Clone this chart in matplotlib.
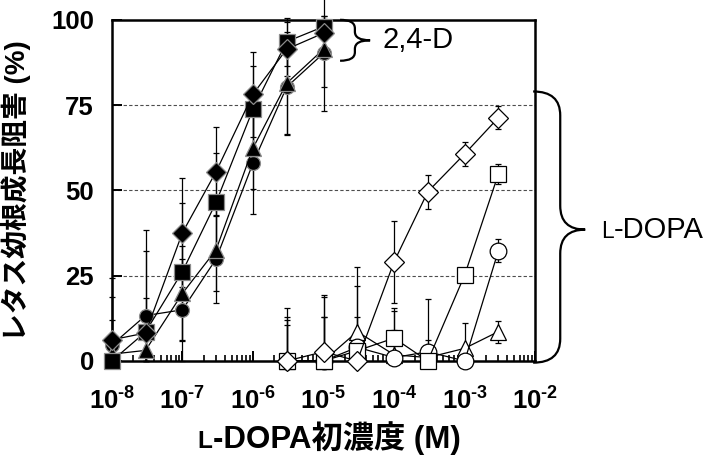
import matplotlib
matplotlib.use("Agg")
from matplotlib import pyplot as plt
from matplotlib.path import Path
from matplotlib.patches import PathPatch
from matplotlib.transforms import blended_transform_factory
from matplotlib.offsetbox import TextArea, HPacker, AnchoredOffsetbox
from matplotlib.ticker import FixedLocator, FixedFormatter, LogLocator, NullFormatter

fam = ['Liberation Sans', 'Noto Sans CJK JP']
plt.rcParams['font.family'] = fam
plt.rcParams['mathtext.fontset'] = 'custom'
plt.rcParams['mathtext.bf'] = 'Liberation Sans:bold'
plt.rcParams['mathtext.rm'] = 'Liberation Sans'

# 2,4-D (filled markers)
conc_24d = [1e-8, 3e-8, 1e-7, 3e-7, 1e-6, 3e-6, 1e-5]
d_diamond = [6.2, 8.2, 37.6, 55.5, 78.2, 91.4, 96.1]
d_square = [0.0, 8.5, 26.2, 46.5, 73.8, 93.6, 98.0]
d_triangle = [2.0, 3.1, 19.8, 32.6, 62.4, 81.4, 91.4]
d_circle = [4.7, 13.3, 15.0, 29.9, 58.0, 80.3, 90.2]
e_diamond = [18, 24, 16, 13, 12.5, 8, 5]
e_square = [6, 10, 20, 14.5, 12.8, 7, 3]
e_triangle = [10, 6, 14, 12, 12, 15, 18]
e_circle = [14, 25, 15, 13, 15, 14, 10]

# L-DOPA (open markers)
conc_dopa = [3e-6, 1e-5, 3e-5, 1e-4, 3e-4, 1e-3, 3e-3]
l_diamond = [0.0, 2.7, 0.0, 29.1, 49.6, 60.7, 71.3]
l_square = [0.0, 0.0, 3.0, 6.7, 0.0, 25.2, 54.8]
l_circle = [0.0, 0.0, 4.0, 1.0, 2.7, 0.0, 32.3]
l_triangle = [0.0, 0.0, 8.6, 1.8, 1.0, 3.7, 8.6]
le_diamond = [15.5, 16.7, 5, 12, 5, 3.5, 3.4]
le_square = [13, 18.8, 10, 8.8, 2, 2, 3]
le_circle = [12, 13, 18, 8, 15.4, 2, 3.4]
le_triangle = [10.6, 13, 19, 12.7, 5, 7.3, 3.2]

xticks = [1e-8, 1e-7, 1e-6, 1e-5, 1e-4, 1e-3, 1e-2]
xticklabels = ['$\\mathbf{10^{\u2010%d}}$' % n for n in range(8, 1, -1)]
yticks = [0, 25, 50, 75, 100]

fig = plt.figure(figsize=(7.08, 4.61), dpi=100)
ax = fig.add_axes([0.158, 0.217, 0.598, 0.74])

ax.set_xscale('log')
ax.set_xlim(1e-8, 1e-2)
ax.set_ylim(0, 100)

for yv in yticks[1:4]:
    ax.axhline(yv, color='0.3', lw=0.8, ls=(0, (3, 2)), zorder=1)


def series(x, y, err, marker, ms, filled):
    lo = [min(e, v) for e, v in zip(err, y)]
    if filled:
        mfc, mec = 'black', '0.55'
    else:
        mfc, mec = 'white', 'black'
    ax.errorbar(x, y, yerr=[lo, err], fmt='-', color='black', lw=0.9,
                marker=marker, ms=ms, mfc=mfc, mec=mec, mew=0.9,
                elinewidth=0.9, capsize=2.5, capthick=0.9,
                zorder=3, clip_on=False)


series(conc_dopa, l_triangle, le_triangle, '^', 12, False)
series(conc_dopa, l_circle, le_circle, 'o', 12, False)
series(conc_dopa, l_square, le_square, 's', 12, False)
series(conc_dopa, l_diamond, le_diamond, 'D', 10, False)

series(conc_24d, d_circle, e_circle, 'o', 10, True)
series(conc_24d, d_triangle, e_triangle, '^', 11, True)
series(conc_24d, d_square, e_square, 's', 11, True)
series(conc_24d, d_diamond, e_diamond, 'D', 10, True)

for s in ax.spines.values():
    s.set_linewidth(1.8)
    s.set_zorder(2)

ax.xaxis.set_major_locator(FixedLocator(xticks))
ax.xaxis.set_major_formatter(FixedFormatter(xticklabels))
ax.xaxis.set_minor_locator(LogLocator(base=10, subs=range(2, 10), numticks=20))
ax.xaxis.set_minor_formatter(NullFormatter())
ax.set_yticks(yticks)
ax.tick_params(axis='both', which='major', direction='in', length=7, width=1.4)
ax.tick_params(axis='x', which='minor', direction='in', length=4, width=1.2)
ax.tick_params(axis='x', which='major', pad=19, labelsize=18.5)
ax.tick_params(axis='y', which='major', pad=13, labelsize=18.5)
for lab in ax.get_yticklabels():
    lab.set_fontweight('bold')

ax.set_ylabel('レタス幼根成長阻害 (%)', fontsize=20, fontweight='bold')
ax.yaxis.set_label_coords(-0.19, 0.5)


def smallcap_label(x, y, rest, size, weight):
    t1 = TextArea('L', textprops=dict(size=size * 0.78, weight=weight, family=fam))
    t2 = TextArea(rest, textprops=dict(size=size, weight=weight, family=fam))
    box = HPacker(children=[t1, t2], align='baseline', pad=0, sep=0)
    ab = AnchoredOffsetbox(loc='center', child=box, frameon=False, pad=0, borderpad=0,
                           bbox_to_anchor=(x, y), bbox_transform=ax.transAxes)
    ab.set_clip_on(False)
    ax.add_artist(ab)


smallcap_label(0.513, -0.225, '-DOPA初濃度 (M)', 22.5, 'bold')
smallcap_label(1.277, 0.385, '-DOPA', 21, 'normal')

tr = blended_transform_factory(ax.transAxes, ax.transData)


def brace(x0, x1, x2, ytop, ybot, ymid, r):
    verts = [(x0, ytop), (x1, ytop), (x1, ytop - r),
             (x1, ymid + r), (x1, ymid), (x2, ymid),
             (x1, ymid), (x1, ymid - r),
             (x1, ybot + r), (x1, ybot), (x0, ybot)]
    codes = [Path.MOVETO, Path.CURVE3, Path.CURVE3,
             Path.LINETO, Path.CURVE3, Path.CURVE3,
             Path.CURVE3, Path.CURVE3,
             Path.LINETO, Path.CURVE3, Path.CURVE3]
    p = PathPatch(Path(verts, codes), fill=False, lw=1.6, ec='black',
                  transform=tr, clip_on=False)
    ax.add_patch(p)


brace(0.539, 0.574, 0.61, 100, 88, 94, 2.5)
ax.text(0.64, 94, '2,4-D', transform=tr, fontsize=21, va='center', ha='left')
brace(0.995, 1.059, 1.118, 79, -0.5, 38.5, 7)

fig.savefig('out.png', dpi=100)
